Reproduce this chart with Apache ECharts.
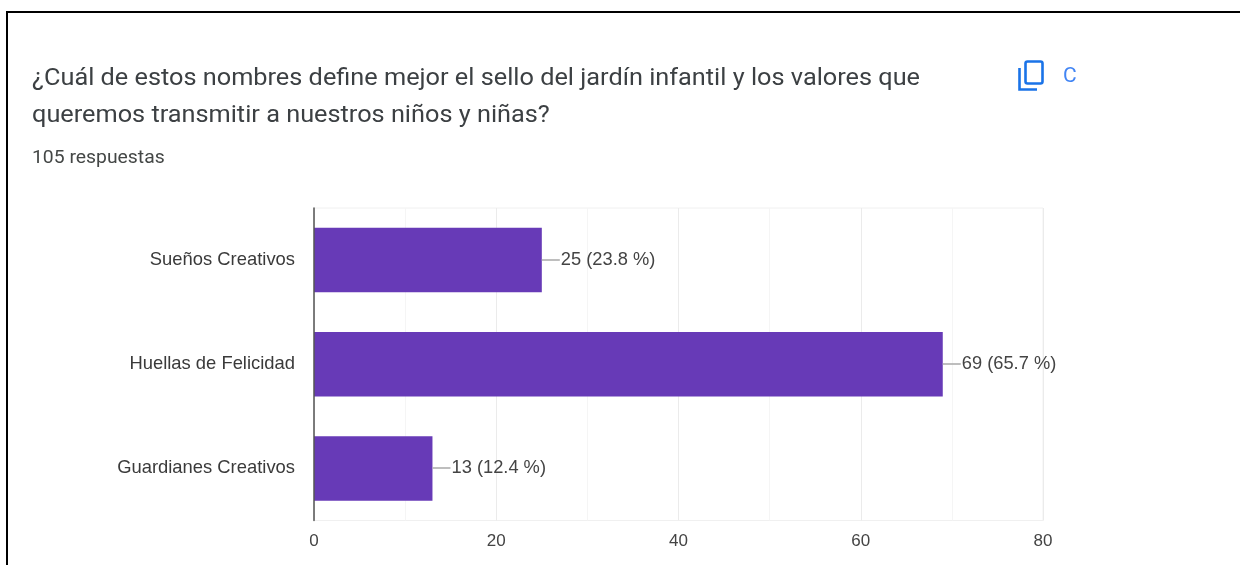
<!DOCTYPE html>
<html>
<head>
<meta charset="utf-8">
<style>html,body{margin:0;padding:0;background:#fff}#c{width:1240px;height:565px}</style>
<script src="https://cdn.jsdelivr.net/npm/echarts@6/dist/echarts.min.js"></script>
</head>
<body>
<div id="c"></div>
<script>
const categories = ['Sueños Creativos', 'Huellas de Felicidad', 'Guardianes Creativos'];
const counts = [25, 69, 13];
const percents = ['23.8', '65.7', '12.4'];
const titleLines = ['¿Cuál de estos nombres define mejor el sello del jardín infantil y los valores que', 'queremos transmitir a nuestros niños y niñas?'];
const subtitle = '105 respuestas';

const chart = echarts.init(document.getElementById('c'), null, {renderer: 'canvas'});
chart.setOption({
  animation: false,
  backgroundColor: '#ffffff',
  grid: {left: 314, right: 197, top: 208, bottom: 44.5, show: true, borderColor: '#f0f0f0', borderWidth: 1, backgroundColor: 'transparent'},
  xAxis: {
    type: 'value', min: 0, max: 80, interval: 20,
    axisLine: {show: false}, axisTick: {show: false},
    axisLabel: {fontFamily: 'Liberation Sans', fontSize: 17, color: '#444444', margin: 12},
    splitLine: {show: true, lineStyle: {color: '#ebebeb', width: 1}},
    minorTick: {show: false, splitNumber: 2},
    minorSplitLine: {show: true, lineStyle: {color: '#f5f5f5', width: 1}}
  },
  yAxis: {
    type: 'category', inverse: true, data: categories,
    axisLine: {show: true, onZero: false, lineStyle: {color: '#555555', width: 1.5}},
    axisTick: {show: false},
    axisLabel: {fontFamily: 'Liberation Sans', fontSize: 18.4, color: '#3a3a3a', margin: 19, padding: [5, 0, 0, 0]},
    z: 5
  },
  series: [
    {
      type: 'bar', data: counts, barWidth: 64.5,
      itemStyle: {color: '#673ab7'},
      label: {
        show: true, position: 'right', distance: 19,
        fontFamily: 'Liberation Sans', fontSize: 18.3, color: '#444444', padding: [4, 0, 0, 0],
        formatter: p => `${counts[p.dataIndex]} (${percents[p.dataIndex]} %)`
      }
    },
    {
      type: 'custom', silent: true, z: 3, data: counts.map((v, i) => [v, i]),
      encode: {x: 0, y: 1},
      renderItem: (params, api) => {
        const pt = api.coord([api.value(0), api.value(1)]);
        return {type: 'line', shape: {x1: pt[0], y1: Math.round(pt[1]), x2: pt[0] + 18, y2: Math.round(pt[1])},
                style: {stroke: '#a8a8a8', lineWidth: 1.5}};
      }
    }
  ],
  graphic: [
    {type: 'text', silent: true, x: 32, y: 67, scaleX: 1.072, style: {text: titleLines[0], fontFamily: 'Roboto', fontSize: 23.6, fill: '#3c4043'}},
    {type: 'text', silent: true, x: 32, y: 104.5, scaleX: 1.072, style: {text: titleLines[1], fontFamily: 'Roboto', fontSize: 23.6, fill: '#3c4043'}},
    {type: 'text', silent: true, x: 32, y: 149, scaleX: 1.075, style: {text: subtitle, fontFamily: 'Roboto', fontSize: 18, fill: '#444746'}},
    {type: 'line', silent: true, shape: {x1: 6, y1: 12, x2: 1240, y2: 12}, style: {stroke: '#000', lineWidth: 2}},
    {type: 'line', silent: true, shape: {x1: 7, y1: 12, x2: 7, y2: 565}, style: {stroke: '#000', lineWidth: 2}},
    {type: 'polyline', silent: true, shape: {points: [[1019.5, 68], [1019.5, 89.5], [1037, 89.5]]}, style: {stroke: '#1a73e8', fill: null, lineWidth: 2.6}},
    {type: 'rect', silent: true, shape: {x: 1025.5, y: 61.5, width: 17, height: 22, r: 2}, style: {stroke: '#1a73e8', fill: null, lineWidth: 2.6}},
    {type: 'text', silent: true, x: 1063, y: 66, style: {text: 'C', fontFamily: 'Roboto', fontSize: 21, fill: '#4285f4'}}
  ]
});
</script>
</body>
</html>
